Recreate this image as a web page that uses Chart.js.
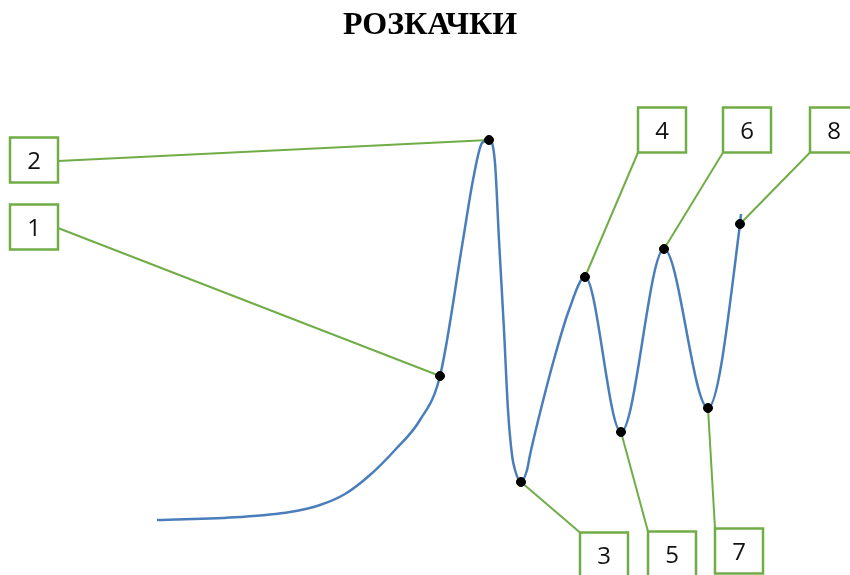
<!DOCTYPE html>
<html>
<head>
<meta charset="utf-8">
<script src="https://cdn.jsdelivr.net/npm/chart.js@4/dist/chart.umd.min.js"></script>
<style>
    html, body { margin: 0; padding: 0; background: #fff; }
    #wrap { width: 850px; height: 575px; }
</style>
</head>
<body>
<div id="wrap"><canvas id="swing" width="850" height="575"></canvas></div>
<script>
const title = "РОЗКАЧКИ";

// swing curve (x = along, y = height)
const curveX = [157, 240, 290, 320, 345, 370, 395, 420, 440, 463, 473, 482, 489, 495, 499, 504, 508, 512, 515, 521, 527, 530, 537, 553, 569, 585, 621, 664, 708, 740, 741];
const curveY = [55, 58, 63, 70, 81, 100, 125, 155, 199, 335, 395, 432, 435, 412, 335, 245, 165, 120, 105, 93, 105, 120, 150, 212, 265, 298, 143, 326, 167, 351, 361];

// marked points 1..8
const markLabels = ["1", "2", "3", "4", "5", "6", "7", "8"];
const markX = [440, 489, 521, 585, 621, 664, 708, 740];
const markY = [199, 435, 93, 298, 143, 326, 167, 351];

// where each numbered box sits
const boxX = [34, 34, 604, 662, 672, 747, 739, 834];
const boxY = [348, 415, 20, 445, 21, 445, 24, 445];
const boxSide = ["right", "right", "topleft", "bottomleft", "topleft", "bottomleft", "topleft", "bottomleft"];

const green = "rgb(112,173,71)";
const blue = "rgb(74,126,187)";
const boxW = 48;
const boxH = 45;

const callouts = {
    id: "callouts",
    anchor(cx, cy, side) {
        if (side === "right") return [cx + boxW / 2, cy + 1];
        if (side === "topleft") return [cx - boxW / 2, cy - boxH / 2];
        return [cx - boxW / 2, cy + boxH / 2];
    },
    beforeDatasetsDraw(chart) {
        const { ctx, scales: { x, y } } = chart;
        ctx.save();
        ctx.strokeStyle = green;
        ctx.lineWidth = 2;
        markLabels.forEach((lab, i) => {
            const cx = x.getPixelForValue(boxX[i]);
            const cy = y.getPixelForValue(boxY[i]);
            const [ax, ay] = this.anchor(cx, cy, boxSide[i]);
            ctx.beginPath();
            ctx.moveTo(ax, ay);
            ctx.lineTo(x.getPixelForValue(markX[i]), y.getPixelForValue(markY[i]));
            ctx.stroke();
        });
        ctx.restore();
    },
    afterDatasetsDraw(chart) {
        const { ctx, scales: { x, y } } = chart;
        ctx.save();
        markLabels.forEach((lab, i) => {
            const cx = x.getPixelForValue(boxX[i]);
            const cy = y.getPixelForValue(boxY[i]);
            ctx.fillStyle = "#fff";
            ctx.fillRect(cx - boxW / 2, cy - boxH / 2, boxW, boxH);
            ctx.strokeStyle = green;
            ctx.lineWidth = 2.5;
            ctx.strokeRect(cx - boxW / 2, cy - boxH / 2, boxW, boxH);
            ctx.fillStyle = "#111";
            ctx.font = "24px 'Open Sans'";
            ctx.textAlign = "center";
            ctx.textBaseline = "middle";
            ctx.fillText(lab, cx, cy + 2);
        });
        // heading
        ctx.fillStyle = "#000";
        ctx.font = "bold 32px 'Liberation Serif'";
        ctx.textAlign = "center";
        ctx.textBaseline = "middle";
        ctx.fillText(title, 430, 26);
        ctx.restore();
    },
};

const ctx = document.getElementById("swing").getContext("2d");
new Chart(ctx, {
    type: "line",
    data: {
        datasets: [
            {
                label: "marks",
                data: markX.map((v, i) => ({ x: v, y: markY[i] })),
                showLine: false,
                pointRadius: 4.5,
                pointBackgroundColor: "#000",
                pointBorderColor: "#000",
                order: 0,
            },
            {
                label: "swing",
                data: curveX.map((v, i) => ({ x: v, y: curveY[i] })),
                borderColor: blue,
                borderWidth: 2.5,
                pointRadius: 0,
                cubicInterpolationMode: "monotone",
                fill: false,
                order: 1,
            },
        ],
    },
    options: {
        responsive: false,
        animation: false,
        layout: { padding: 0, autoPadding: false },
        plugins: {
            legend: { display: false },
            tooltip: { enabled: false },
        },
        scales: {
            x: { type: "linear", min: 0, max: 850, display: false },
            y: { type: "linear", min: 0, max: 575, display: false },
        },
    },
    plugins: [callouts],
});
</script>
</body>
</html>
